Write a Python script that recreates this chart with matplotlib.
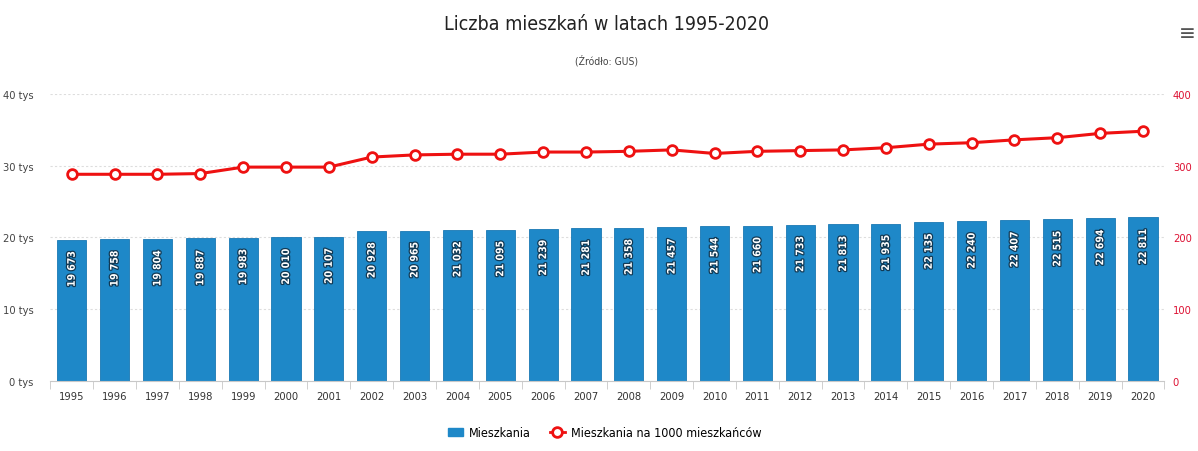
import matplotlib
matplotlib.use("Agg")
import matplotlib.pyplot as plt
import matplotlib.patheffects as pe
from matplotlib.lines import Line2D
from matplotlib.patches import Patch
import numpy as np

plt.rcParams['font.family'] = ['DejaVu Sans']
plt.rcParams['font.stretch'] = 'condensed'

years = [str(y) for y in range(1995, 2021)]
mieszkania = [19673, 19758, 19804, 19887, 19983, 20010, 20107, 20928, 20965, 21032,
              21095, 21239, 21281, 21358, 21457, 21544, 21660, 21733, 21813, 21935,
              22135, 22240, 22407, 22515, 22694, 22811]
na_1000 = [288, 288, 288, 289, 298, 298, 298, 312, 315, 316,
           316, 319, 319, 320, 322, 317, 320, 321, 322, 325,
           330, 332, 336, 339, 345, 348]
left_ticks = [0, 10000, 20000, 30000, 40000]
left_labels = ["0 tys", "10 tys", "20 tys", "30 tys", "40 tys"]
right_ticks = [0, 100, 200, 300, 400]

fig = plt.figure(figsize=(11.98, 4.52), dpi=100)
ax = fig.add_axes([0.042, 0.155, 0.930, 0.635])
ax2 = ax.twinx()

x = np.arange(len(years))
bar_color = '#1e88c8'
ax.bar(x, mieszkania, width=0.68, color=bar_color, edgecolor='#1a78b4', linewidth=0.6, zorder=2)
for xi, v in zip(x, mieszkania):
    s = f"{v // 1000} {v % 1000:03d}"
    ax.text(xi, v - 1600, s, rotation=90, ha='center', va='top', color='white',
            fontsize=7.5, fontweight='bold',
            path_effects=[pe.withStroke(linewidth=1.8, foreground='#123a55')], zorder=3)

ax.set_xlim(-0.5, len(years) - 0.5)
ax.set_ylim(0, 40000)
ax.set_yticks(left_ticks)
ax.set_yticklabels(left_labels, fontsize=8, color='#444444')
ax.set_xticks(x)
ax.set_xticklabels(years, fontsize=8, color='#333333')
ax.set_xticks(np.arange(-0.5, len(years), 1), minor=True)
ax.tick_params(axis='x', which='major', length=0, pad=7)
ax.tick_params(axis='x', which='minor', length=6, color='#c8c8c8')
ax.tick_params(axis='y', length=0, pad=12)
ax.grid(axis='y', color='#dddddd', linestyle=(0, (2, 2)), linewidth=0.8, zorder=0)
ax.set_axisbelow(True)
for sp in ['top', 'right', 'left']:
    ax.spines[sp].set_visible(False)
ax.spines['bottom'].set_color('#c8c8c8')

ax2.plot(x, na_1000, color='#ee1111', linewidth=2.2, marker='o', markersize=7,
         markerfacecolor='white', markeredgecolor='#ee1111', markeredgewidth=2, zorder=5)
ax2.set_ylim(0, 400)
ax2.set_yticks(right_ticks)
ax2.set_yticklabels([str(t) for t in right_ticks], fontsize=8, color='#dd1133')
ax2.tick_params(axis='y', length=0, pad=6)
for sp in ['top', 'right', 'left', 'bottom']:
    ax2.spines[sp].set_visible(False)

fig.text(0.506, 0.945, "Liczba mieszkań w latach 1995-2020", ha='center', va='center',
         fontsize=14, color='#222222')
fig.text(0.506, 0.865, "(Źródło: GUS)", ha='center', va='center', fontsize=7.5, color='#444444')
fig.text(0.991, 0.925, "≡", ha='center', va='center', fontsize=16, color='#555555')

handles = [Patch(facecolor=bar_color, edgecolor=bar_color),
           Line2D([0], [0], color='#ee1111', lw=2, marker='o', markersize=7,
                  markerfacecolor='white', markeredgecolor='#ee1111', markeredgewidth=2)]
fig.legend(handles, ["Mieszkania", "Mieszkania na 1000 mieszkańców"], loc='center',
           bbox_to_anchor=(0.505, 0.04), ncol=2, frameon=False, fontsize=9,
           handlelength=1.2, handletextpad=0.5, columnspacing=1.5)

fig.savefig("out.png", dpi=100, facecolor='white')
